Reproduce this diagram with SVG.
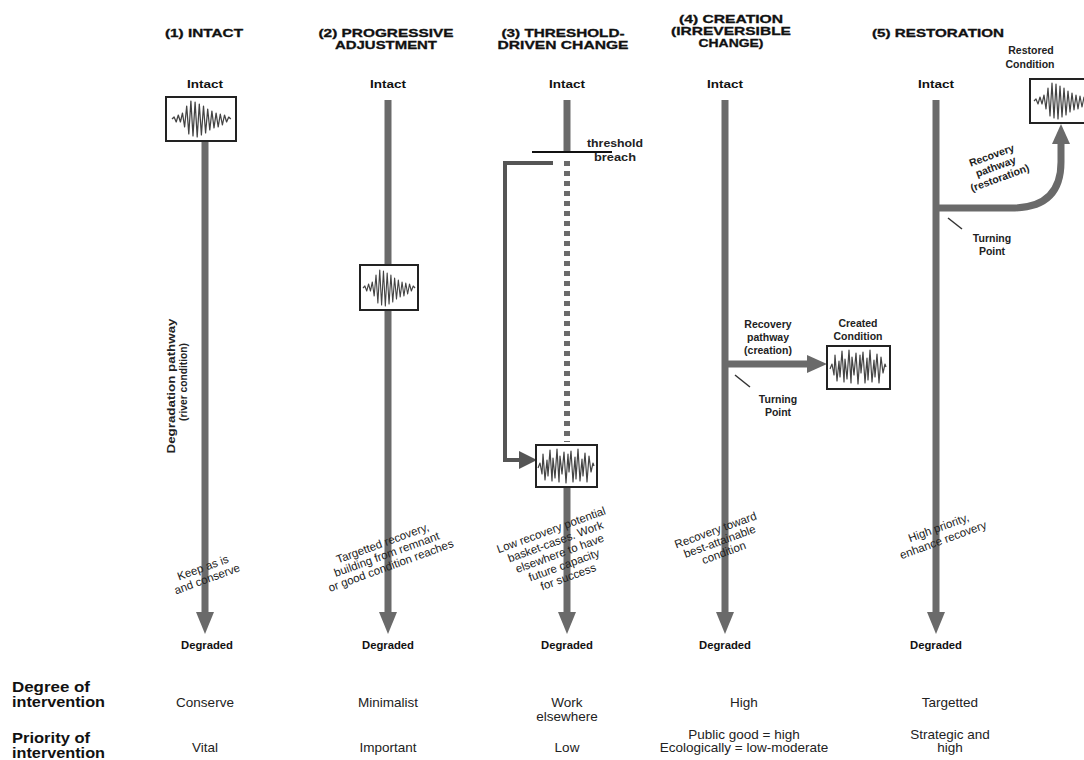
<svg xmlns="http://www.w3.org/2000/svg" xmlns:xlink="http://www.w3.org/1999/xlink" width="1084" height="760" viewBox="0 0 1084 760">
  <style>
    .hdr { font-family: "Liberation Sans", Arial, sans-serif; font-weight: bold; font-size: 11.5px; fill: #111; stroke: #111; stroke-width: 0.3; text-anchor: middle; }
    .end { font-family: "Liberation Sans", Arial, sans-serif; font-weight: bold; font-size: 11px; fill: #111; text-anchor: middle; }
    .lbl { font-family: "Liberation Sans", Arial, sans-serif; font-weight: bold; font-size: 10.5px; fill: #222; text-anchor: middle; }
    .diag { font-family: "Liberation Sans", Arial, sans-serif; font-size: 11.5px; fill: #222; text-anchor: middle; }
    .row { font-family: "Liberation Sans", Arial, sans-serif; font-weight: bold; font-size: 14px; fill: #111; }
    .val { font-family: "Liberation Sans", Arial, sans-serif; font-size: 13.5px; fill: #222; text-anchor: middle; }
    .path { stroke: #6a6a6a; stroke-width: 7; fill: none; }
    .head { fill: #6a6a6a; }
    .box { fill: #fff; stroke: #222; stroke-width: 2; }
    .wave { fill: none; stroke: #444; stroke-width: 1.2; stroke-linejoin: round; }
    .link { stroke: #555; stroke-width: 4; fill: none; }
  </style>
  <defs>
    <!-- seismograph-like traces shown inside the condition boxes -->
    <path id="waveA" class="wave" d="M0,0 L2,-2 L4,3 L6,-4 L8,3 L10,-6 L12,8 L14,-13 L16,15 L18,-18 L20,17 L22,-17 L24,18 L26,-15 L28,16 L30,-13 L32,14 L34,-10 L36,11 L38,-8 L40,9 L42,-6 L44,8 L46,-5 L48,6 L50,-4 L52,3 L54,-2 L56,0"/>
    <path id="waveB" class="wave" d="M0,2 L2,-3 L4,8 L5,-12 L7,14 L9,-6 L10,10 L12,-16 L14,15 L15,-8 L17,12 L19,-17 L21,16 L22,-10 L24,8 L26,-14 L28,17 L30,-12 L31,6 L33,-15 L35,16 L37,-9 L38,13 L40,-17 L42,15 L44,-7 L45,10 L47,-13 L49,16 L51,-10 L53,6 L55,-3 L56,0"/>
  </defs>

  <!-- column headers -->
  <g id="headers">
    <text class="hdr" x="204" y="37" textLength="78" lengthAdjust="spacingAndGlyphs">(1) INTACT</text>
    <text class="hdr" x="386" y="37" textLength="135" lengthAdjust="spacingAndGlyphs">(2) PROGRESSIVE</text>
    <text class="hdr" x="386" y="49" textLength="102" lengthAdjust="spacingAndGlyphs">ADJUSTMENT</text>
    <text class="hdr" x="563" y="37" textLength="123" lengthAdjust="spacingAndGlyphs">(3) THRESHOLD-</text>
    <text class="hdr" x="563" y="49" textLength="131" lengthAdjust="spacingAndGlyphs">DRIVEN CHANGE</text>
    <text class="hdr" x="731" y="23" textLength="104" lengthAdjust="spacingAndGlyphs">(4) CREATION</text>
    <text class="hdr" x="731" y="35" textLength="120" lengthAdjust="spacingAndGlyphs">(IRREVERSIBLE</text>
    <text class="hdr" x="731" y="47" textLength="65" lengthAdjust="spacingAndGlyphs">CHANGE)</text>
    <text class="hdr" x="938" y="37" textLength="132" lengthAdjust="spacingAndGlyphs">(5) RESTORATION</text>
  </g>

  <!-- connectors: pathways, thresholds and recovery arrows -->
  <g id="connectors">
    <!-- (1) intact -->
    <line class="path" x1="205" y1="141" x2="205" y2="614"/>
    <polygon class="head" points="196,612 214,612 205,634"/>
    <!-- (2) progressive adjustment -->
    <line class="path" x1="388" y1="100" x2="388" y2="265"/>
    <line class="path" x1="388" y1="310" x2="388" y2="614"/>
    <polygon class="head" points="379,612 397,612 388,634"/>
    <!-- (3) threshold-driven change -->
    <line class="path" x1="567" y1="100" x2="567" y2="152"/>
    <line x1="532" y1="152" x2="612" y2="152" stroke="#111" stroke-width="2"/>
    <line x1="567" y1="161" x2="567" y2="442" stroke="#6a6a6a" stroke-width="6" stroke-dasharray="5 5"/>
    <polyline class="link" points="553,163 505,163 505,460 522,460"/>
    <polygon fill="#555" points="519,451 519,469 537,460"/>
    <line class="path" x1="567" y1="487" x2="567" y2="614"/>
    <polygon class="head" points="558,612 576,612 567,634"/>
    <!-- (4) creation -->
    <line class="path" x1="725" y1="100" x2="725" y2="614"/>
    <polygon class="head" points="716,612 734,612 725,634"/>
    <line class="path" x1="728" y1="364" x2="810" y2="364"/>
    <polygon class="head" points="807,355 807,373 827,364"/>
    <line x1="735" y1="375" x2="750" y2="387" stroke="#333" stroke-width="1.5"/>
    <!-- (5) restoration -->
    <line class="path" x1="936" y1="100" x2="936" y2="614"/>
    <polygon class="head" points="927,612 945,612 936,634"/>
    <path class="path" d="M939,208 L1012,208 Q1061,208 1061,162 L1061,142"/>
    <polygon class="head" points="1052,144 1070,144 1061,124"/>
    <line x1="948" y1="218" x2="962" y2="229" stroke="#333" stroke-width="1.5"/>
  </g>

  <!-- column 1 -->
  <g id="col1">
    <text class="end" x="205" y="88" textLength="36" lengthAdjust="spacingAndGlyphs">Intact</text>
    <rect class="box" x="166" y="97" width="70" height="44"/>
    <use xlink:href="#waveA" transform="translate(172,119) scale(1.05,1)"/>
    <text class="lbl" font-size="11" transform="translate(175,386) rotate(-90)" textLength="135" lengthAdjust="spacingAndGlyphs">Degradation pathway</text>
    <text class="lbl" font-size="11" transform="translate(187,382) rotate(-90)" textLength="78" lengthAdjust="spacingAndGlyphs">(river condition)</text>
    <text class="diag" transform="translate(206,576) rotate(-20)"><tspan x="0" y="-5">Keep as is</tspan><tspan x="0" y="7">and conserve</tspan></text>
    <text class="end" x="207" y="649" textLength="52" lengthAdjust="spacingAndGlyphs">Degraded</text>
  </g>

  <!-- column 2 -->
  <g id="col2">
    <text class="end" x="388" y="88" textLength="36" lengthAdjust="spacingAndGlyphs">Intact</text>
    <rect class="box" x="360" y="265" width="58" height="45"/>
    <use xlink:href="#waveA" transform="translate(363,288) scale(0.93,1)"/>
    <text class="diag" transform="translate(388,558) rotate(-20)"><tspan x="0" y="-12">Targetted recovery,</tspan><tspan x="0" y="0">building from remnant</tspan><tspan x="0" y="12">or good condition reaches</tspan></text>
    <text class="end" x="388" y="649" textLength="52" lengthAdjust="spacingAndGlyphs">Degraded</text>
  </g>

  <!-- column 3 -->
  <g id="col3">
    <text class="end" x="567" y="88" textLength="36" lengthAdjust="spacingAndGlyphs">Intact</text>
    <text class="lbl" font-size="10" x="615" y="147" textLength="56" lengthAdjust="spacingAndGlyphs">threshold</text>
    <text class="lbl" font-size="10" x="615" y="161" textLength="42" lengthAdjust="spacingAndGlyphs">breach</text>
    <rect class="box" x="536" y="445" width="61" height="42"/>
    <use xlink:href="#waveB" transform="translate(538,466)"/>
    <text class="diag" font-size="12.5" transform="translate(561,557) rotate(-20)"><tspan x="0" y="-25">Low recovery potential</tspan><tspan x="0" y="-12.5">basket-cases.  Work</tspan><tspan x="0" y="0">elsewhere to have</tspan><tspan x="0" y="12.5">future capacity</tspan><tspan x="0" y="25">for success</tspan></text>
    <text class="end" x="567" y="649" textLength="52" lengthAdjust="spacingAndGlyphs">Degraded</text>
  </g>

  <!-- column 4 -->
  <g id="col4">
    <text class="end" x="725" y="88" textLength="36" lengthAdjust="spacingAndGlyphs">Intact</text>
    <text class="lbl" x="768" y="328">Recovery</text>
    <text class="lbl" x="768" y="341">pathway</text>
    <text class="lbl" x="768" y="354">(creation)</text>
    <text class="lbl" x="858" y="327">Created</text>
    <text class="lbl" x="858" y="340">Condition</text>
    <rect class="box" x="827" y="346" width="63" height="43"/>
    <use xlink:href="#waveB" transform="translate(830,367)"/>
    <text class="lbl" x="778" y="403">Turning</text>
    <text class="lbl" x="778" y="416">Point</text>
    <text class="diag" font-size="12" transform="translate(721,545) rotate(-20)"><tspan x="0" y="-12">Recovery toward</tspan><tspan x="0" y="0">best-attainable</tspan><tspan x="0" y="12">condition</tspan></text>
    <text class="end" x="725" y="649" textLength="52" lengthAdjust="spacingAndGlyphs">Degraded</text>
  </g>

  <!-- column 5 -->
  <g id="col5">
    <text class="end" x="936" y="88" textLength="36" lengthAdjust="spacingAndGlyphs">Intact</text>
    <text class="lbl" x="1031" y="54" text-anchor="start">Restored</text>
    <text class="lbl" x="1030" y="68" text-anchor="start">Condition</text>
    <rect class="box" x="1030" y="79" width="60" height="44"/>
    <use xlink:href="#waveA" transform="translate(1034,101)"/>
    <text class="lbl" transform="translate(997,170) rotate(-20)"><tspan x="0" y="-12">Recovery</tspan><tspan x="0" y="0">pathway</tspan><tspan x="0" y="12">(restoration)</tspan></text>
    <text class="lbl" x="992" y="242">Turning</text>
    <text class="lbl" x="992" y="255">Point</text>
    <text class="diag" font-size="12" transform="translate(942,537) rotate(-20)"><tspan x="0" y="-6">High priority,</tspan><tspan x="0" y="7">enhance recovery</tspan></text>
    <text class="end" x="936" y="649" textLength="52" lengthAdjust="spacingAndGlyphs">Degraded</text>
  </g>

  <!-- intervention summary rows -->
  <g id="rows">
    <text class="row" x="12" y="692" textLength="78" lengthAdjust="spacingAndGlyphs">Degree of</text>
    <text class="row" x="12" y="707" textLength="93" lengthAdjust="spacingAndGlyphs">intervention</text>
    <text class="row" x="12" y="743" textLength="78" lengthAdjust="spacingAndGlyphs">Priority of</text>
    <text class="row" x="12" y="758" textLength="93" lengthAdjust="spacingAndGlyphs">intervention</text>
    <text class="val" x="205" y="707">Conserve</text>
    <text class="val" x="388" y="707">Minimalist</text>
    <text class="val" x="567" y="707">Work</text>
    <text class="val" x="567" y="721">elsewhere</text>
    <text class="val" x="744" y="707">High</text>
    <text class="val" x="950" y="707">Targetted</text>
    <text class="val" x="205" y="752">Vital</text>
    <text class="val" x="388" y="752">Important</text>
    <text class="val" x="567" y="752">Low</text>
    <text class="val" x="744" y="739">Public good = high</text>
    <text class="val" x="744" y="752">Ecologically = low-moderate</text>
    <text class="val" x="950" y="739">Strategic and</text>
    <text class="val" x="950" y="752">high</text>
  </g>
</svg>
